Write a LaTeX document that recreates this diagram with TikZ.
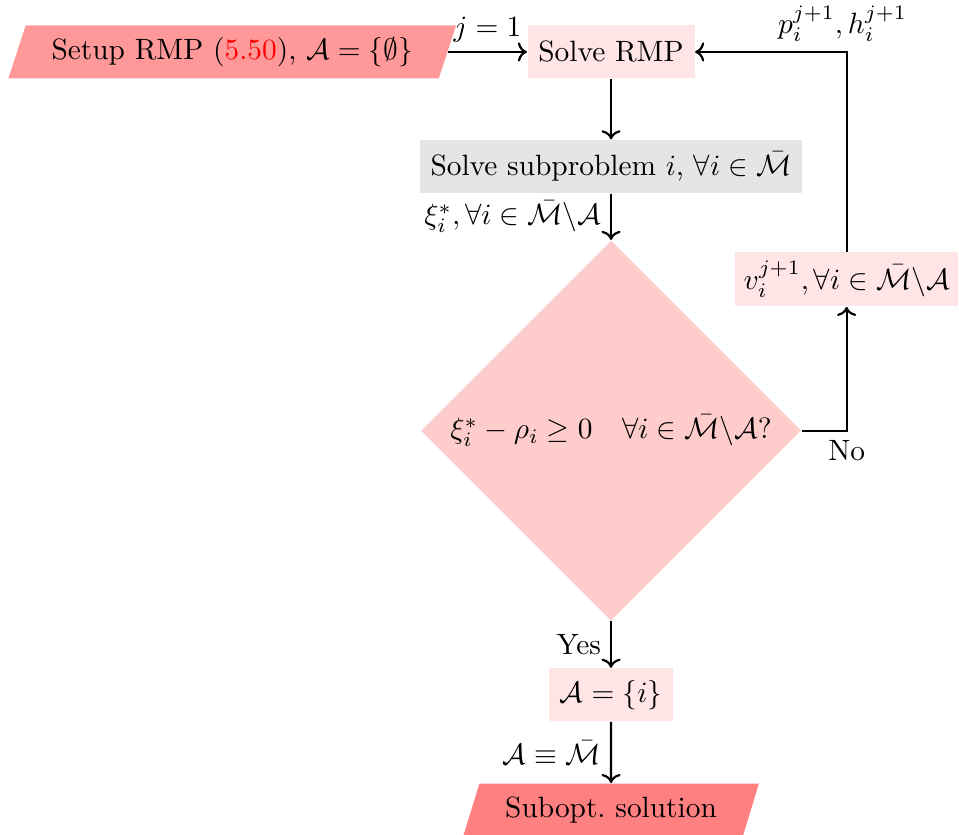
\RequirePackage{fix-cm}
\documentclass[tikz,border=0pt]{standalone}
\usepackage{amsmath}
\usepackage{amssymb}
\usepackage{xcolor}
\usepackage{tikz}
\usetikzlibrary{positioning, arrows.meta, calc, shapes.geometric}

\begin{document}
\begin{tikzpicture}[
        font=\fontsize{10.8pt}{13pt}\selectfont,
        node distance=6mm and 1.02cm,
        box/.style={rectangle, inner xsep=4pt, minimum height=19.5pt, align=center, fill=red!10},
        io/.style={trapezium, trapezium left angle=70, trapezium right angle=110, trapezium stretches=true, inner xsep=9.5pt, minimum height=19.5pt, align=center},
        decision/.style={diamond, aspect=1, inner sep=2.5pt, fill=red!20},
        arrow/.style={-{To}, thick}
    ]

    \useasboundingbox (-224.6pt,19.1pt) rectangle (127.9pt,-287.8pt);

    \node[box] (rmp) {Solve RMP};
    \node[io, fill=red!40, left=of rmp] (setup) {Setup RMP (\textcolor{red}{5.50}), $\mathcal{A}=\{\emptyset\}$};
    \node[box, fill=gray!20, below=7.8mm of rmp] (sub) {Solve subproblem $i$, $\forall i\in\bar{\mathcal{M}}$};
    \node[decision, below=of sub] (check) {$\xi_i^*-\rho_i\geq 0\quad\forall i\in\bar{\mathcal{M}}\backslash\mathcal{A}?$};
    \node[box, below=of check] (aset) {$\mathcal{A}=\{i\}$};
    \node[io, fill=red!50, below=7.9mm of aset] (subopt) {Subopt.\ solution};

    \coordinate[right=5.8mm of check.east] (noTurn);
    \node[box, inner xsep=3pt, above=1.6cm of noTurn] (update) {$v_i^{j+1},\forall i\in\bar{\mathcal{M}}\backslash\mathcal{A}$};

    \draw[arrow] (setup) -- node[above] {$j=1$} (rmp);
    \draw[arrow] (rmp) -- (sub);
    \draw[arrow] (sub) -- node[left] {$\xi_i^*,\forall i\in\bar{\mathcal{M}}\backslash\mathcal{A}$} (check);
    \draw[arrow] (check) -- node[left] {Yes} (aset);
    \draw[arrow] (aset) -- node[left] {$\mathcal{A}\equiv\bar{\mathcal{M}}$} (subopt);

    \draw[arrow] (check.east) -- (noTurn) node[below] {No} -- (update.south);
    \draw[arrow] (update) |- node[pos=0.5, above, xshift=-1.5pt] {$p_i^{j+1},h_i^{j+1}$} (rmp);

\end{tikzpicture}
\end{document}
